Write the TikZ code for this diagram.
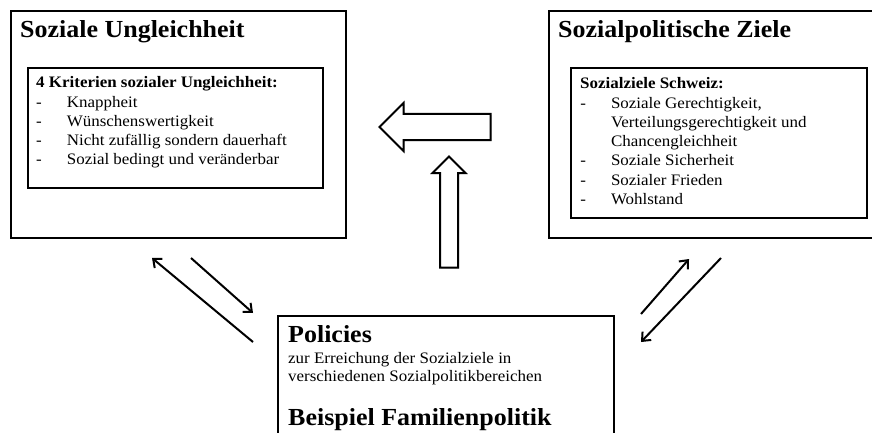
\documentclass[tikz,border=0pt]{standalone}
\usepackage{fontspec}
\setmainfont{Liberation Serif}[FakeStretch=1.06]
\usetikzlibrary{matrix,shapes,arrows.meta,shadows}

\tikzset{
    box/.style={draw, line width=2pt, anchor=north west, inner sep=0pt},
    heading/.style={anchor=base west, inner sep=0pt, font=\fontsize{24.5}{28}\selectfont\bfseries},
    listhead/.style={anchor=base west, inner sep=0pt, font=\fontsize{16}{19}\selectfont\bfseries},
    plain/.style={anchor=base west, inner sep=0pt, font=\fontsize{16}{19}\selectfont},
    itemlist/.style={matrix of nodes, anchor=north west, inner sep=0pt, column sep=25pt, row sep=0pt,
        nodes={anchor=base west, inner sep=0pt, text height=14pt, text depth=5.2pt, font=\fontsize{16}{19}\selectfont}},
    relation/.style={line width=2pt, -{Straight Barb[length=7pt,width=12pt]}},
    bigarrow/.style={single arrow, draw, line width=2pt, fill=white, single arrow head indent=0pt,
        minimum height=111pt, drop shadow={shadow xshift=1.2pt, shadow yshift=-1.2pt, fill=black!30}}
}

\begin{document}
\begin{tikzpicture}[x=1pt,y=-1pt]
        \useasboundingbox (0,0) rectangle (872,433);
        \clip (0,0) rectangle (872,433);

        % boxes - placed by their top left corner, pixel units with y running down
        \node[box, minimum width=335pt, minimum height=227pt] (ungl) at (10,10) {};
        \node[box, minimum width=295pt, minimum height=120pt] (krit) at (27,67) {};
        \node[box, minimum width=342pt, minimum height=227pt] (ziele) at (548,10) {};
        \node[box, minimum width=296pt, minimum height=150pt] (schweiz) at (570,67) {};
        \node[box, minimum width=336pt, minimum height=150pt] (pol) at (277,315) {};

        \node[heading] (unglT) at (20,38) {Soziale Ungleichheit};
        \node[listhead] (kritT) at (36,88) {4 Kriterien sozialer Ungleichheit:};
        \matrix (kritL) [itemlist] at (36,93) {
            -   & Knappheit                         \\
            -   & Wünschenswertigkeit               \\
            -   & Nicht zufällig sondern dauerhaft  \\
            -   & Sozial bedingt und veränderbar    \\
        };

        \node[heading] (zieleT) at (558,38) {Sozialpolitische Ziele};
        \node[listhead] (schweizT) at (580,89) {Sozialziele Schweiz:};
        \matrix (schweizL) [itemlist] at (580,94) {
            -   & Soziale Gerechtigkeit,            \\
                & Verteilungsgerechtigkeit und      \\
                & Chancengleichheit                 \\
            -   & Soziale Sicherheit                \\
            -   & Sozialer Frieden                  \\
            -   & Wohlstand                         \\
        };

        \node[heading] (polT) at (288,342) {Policies};
        \node[plain] (polA) at (288,363) {zur Erreichung der Sozialziele in};
        \node[plain] (polB) at (288,381) {verschiedenen Sozialpolitikbereichen};
        \node[heading] (polC) at (288,425) {Beispiel Familienpolitik};

        % block arrows between the boxes
        \node[bigarrow, shape border rotate=180, inner sep=12pt, single arrow head extend=11pt] (back) at (441.5,127) {};
        \node[bigarrow, shape border rotate=90, inner sep=8pt, single arrow head extend=7.5pt] (up) at (449,216.5) {};

        % free ends of the thin arrows
        \coordinate (lu1) at (253,342); \coordinate (lu2) at (152,258);
        \coordinate (ld1) at (191,258); \coordinate (ld2) at (253,313);
        \coordinate (ru1) at (641,314); \coordinate (ru2) at (689,259);
        \coordinate (rd1) at (721,258); \coordinate (rd2) at (641,342);

        \draw[relation] (lu1) -- (lu2);     % policies back to Soziale Ungleichheit
        \draw[relation] (ld1) -- (ld2);     % Soziale Ungleichheit to policies
        \draw[relation] (ru1) -- (ru2);     % policies to Sozialpolitische Ziele
        \draw[relation] (rd1) -- (rd2);     % Sozialpolitische Ziele to policies
    \end{tikzpicture}
\end{document}
